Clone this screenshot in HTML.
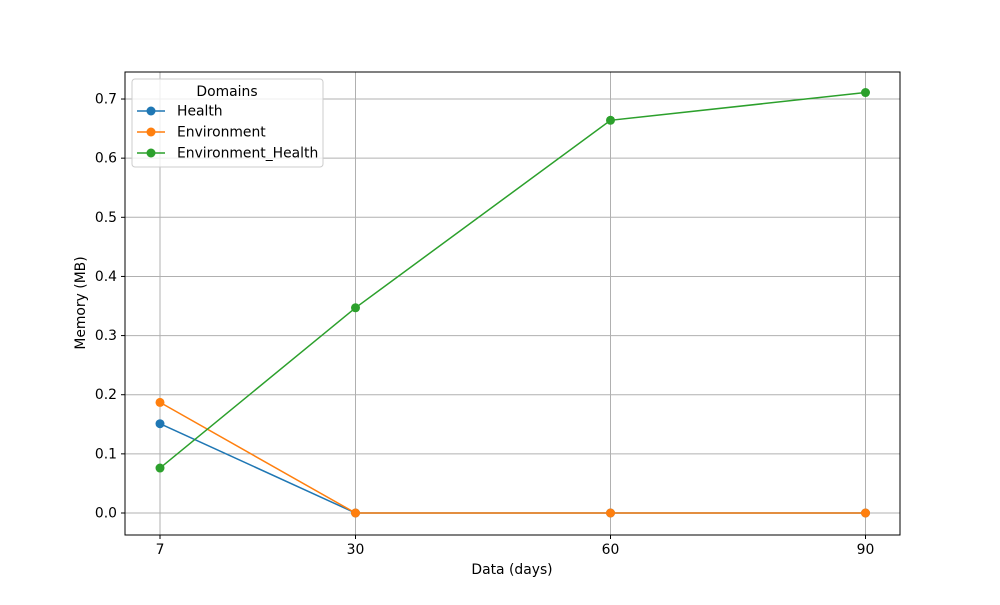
<!DOCTYPE html>
<html><head><meta charset="utf-8"><style>
body{margin:0;background:#fff;font-family:"Liberation Sans","DejaVu Sans",sans-serif;}
svg text{font-family:"DejaVu Sans","Liberation Sans",sans-serif;font-size:13.9px;fill:#000;}
</style></head><body>
<svg id="chart" width="1000" height="600" xmlns="http://www.w3.org/2000/svg">
<rect width="1000" height="600" fill="#fff"/>
<g id="grid"></g>
<g id="series"></g>
<rect x="125" y="72" width="775" height="463" fill="none" stroke="#000" stroke-width="1"/>
<g id="ticks"></g>
<text x="512" y="574" text-anchor="middle">Data (days)</text>
<text transform="translate(85,303) rotate(-90)" text-anchor="middle">Memory (MB)</text>
<g>
<rect x="132" y="79" width="191" height="88" rx="3" fill="#fff" fill-opacity="0.8" stroke="#ccc"/>
<text x="227" y="96" text-anchor="middle">Domains</text>
<g id="legend-items"></g>
</g>
</svg>
<script>
const categories=[7,30,60,90];
const health=[0.151,0,0,0];
const environment=[0.187,0,0,0];
const envHealth=[0.076,0.347,0.664,0.711];
const yTicks=[0,0.1,0.2,0.3,0.4,0.5,0.6,0.7];
const seriesNames=["Health","Environment","Environment_Health"];
const colors=["#1f77b4","#ff7f0e","#2ca02c"];
const NS="http://www.w3.org/2000/svg";
function xs(v){return 160+(v-7)*8.5;}
function ys(v){return 513-v*591.4;}
function mk(t,a,p){const e=document.createElementNS(NS,t);for(const k in a)e.setAttribute(k,a[k]);p.appendChild(e);return e;}
const grid=document.getElementById('grid'),ticks=document.getElementById('ticks'),ser=document.getElementById('series'),leg=document.getElementById('legend-items');
categories.forEach(c=>{
 const g=mk('line',{x1:xs(c),x2:xs(c),y1:72,y2:535,stroke:'#b0b0b0','stroke-width':1},grid);
 
 
 mk('line',{x1:xs(c),x2:xs(c),y1:535,y2:539,stroke:'#000'},ticks);
 const t=mk('text',{x:xs(c),y:554,'text-anchor':'middle'},ticks);t.textContent=c;
 
 
});
yTicks.forEach(v=>{
 const g=mk('line',{x1:125,x2:900,y1:ys(v),y2:ys(v),stroke:'#b0b0b0','stroke-width':1},grid);
 
 
 mk('line',{x1:121,x2:125,y1:ys(v),y2:ys(v),stroke:'#000'},ticks);
 const t=mk('text',{x:117,y:ys(v)+4.5,'text-anchor':'end'},ticks);t.textContent=v.toFixed(1);
 
 
});
[health,environment,envHealth].forEach((d,i)=>{
 const g=mk('g',{},ser);
 
 
 mk('polyline',{points:d.map((v,j)=>xs(categories[j])+','+ys(v)).join(' '),fill:'none',stroke:colors[i],'stroke-width':1.5},g);
 d.forEach((v,j)=>{const p=mk('circle',{cx:xs(categories[j]),cy:ys(v),r:4.5,fill:colors[i]},g);
  
  });
 const y=111+i*21;
 const e=mk('g',{},leg);
 
 
 mk('line',{x1:137,x2:165,y1:y,y2:y,stroke:colors[i],'stroke-width':1.5},e);
 mk('circle',{cx:151,cy:y,r:4.5,fill:colors[i]},e);
 const t=mk('text',{x:177,y:y+4.5},e);t.textContent=seriesNames[i];
});
</script>
</body></html>
